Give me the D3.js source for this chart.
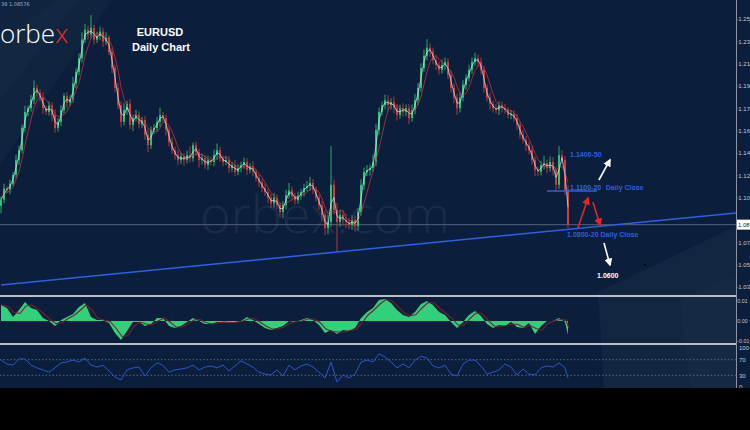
<!DOCTYPE html>
<html><head><meta charset="utf-8">
<script src="https://cdnjs.cloudflare.com/ajax/libs/d3/7.8.5/d3.min.js"></script>
<style>html,body{margin:0;padding:0;background:#000;overflow:hidden}svg{display:block}</style>
</head><body><svg id="c" width="750" height="430"></svg>
<script>
// ---- DATA (EURUSD daily, sampled) ----
const firstOpen = 1.1010;
const closes = [
1.1060,1.1150,1.1140,1.1190,1.1260,1.1380,1.1460,1.1640,1.1770,1.1800,
1.1870,1.1965,1.1925,1.1885,1.1800,1.1770,1.1820,1.1745,1.1640,1.1690,
1.1785,1.1900,1.1845,1.1870,1.2000,1.2095,1.2205,1.2355,1.2435,1.2395,
1.2450,1.2355,1.2385,1.2420,1.2340,1.2370,1.2255,1.2125,1.1965,1.1825,
1.1690,1.1785,1.1835,1.1665,1.1720,1.1745,1.1670,1.1705,1.1585,1.1500,
1.1625,1.1640,1.1690,1.1745,1.1720,1.1625,1.1525,1.1460,1.1420,1.1380,
1.1410,1.1380,1.1420,1.1395,1.1500,1.1445,1.1380,1.1395,1.1340,1.1380,
1.1365,1.1420,1.1460,1.1395,1.1365,1.1380,1.1315,1.1340,1.1285,1.1315,
1.1340,1.1365,1.1300,1.1330,1.1285,1.1235,1.1200,1.1155,1.1120,1.1075,
1.1030,1.1075,1.1015,1.0960,1.1015,1.1095,1.1135,1.1090,1.1055,1.1090,
1.1120,1.1155,1.1170,1.1195,1.1140,1.1075,1.1015,1.0935,1.0830,1.0880,
1.1180,1.0975,1.0880,1.0935,1.0895,1.0880,1.0855,1.0895,1.0845,1.0960,
1.1180,1.1285,1.1300,1.1315,1.1365,1.1625,1.1770,1.1825,1.1865,1.1825,
1.1850,1.1800,1.1745,1.1800,1.1770,1.1800,1.1720,1.1785,1.1865,1.1965,
1.2125,1.2225,1.2290,1.2260,1.2190,1.2150,1.2110,1.2150,1.2175,1.2070,
1.1965,1.1885,1.1800,1.1885,1.1990,1.2045,1.2110,1.2175,1.2205,1.2175,
1.2110,1.1965,1.1885,1.1835,1.1800,1.1785,1.1825,1.1800,1.1785,1.1745,
1.1755,1.1720,1.1665,1.1585,1.1545,1.1500,1.1460,1.1380,1.1300,1.1285,
1.1340,1.1355,1.1315,1.1365,1.1300,1.1180,1.1420,1.1380,1.1140,1.08576];
// wick lengths in pips above / below the body
const wickUp = [
25,40,18,30,22,45,35,28,50,20, 38,60,25,30,42,20,35,28,45,30,
40,22,30,35,55,28,40,60,45,30, 105,25,35,40,30,45,20,35,28,40,
30,55,25,38,20,42,30,25,35,45, 28,32,40,60,25,30,22,35,28,40,
30,25,38,70,22,30,28,40,25,35, 30,45,55,28,22,35,30,25,40,30,
28,35,30,25,40,22,30,28,35,25, 30,40,28,22,35,45,60,30,25,35,
28,35,40,50,30,25,28,35,40,55, 315,40,60,45,35,50,30,40,35,30,
45,35,40,30,60,50,35,30,45,40, 30,45,35,28,40,30,35,45,50,38,
40,50,70,35,30,40,28,45,35,30, 40,35,30,45,38,30,42,35,45,30,
35,30,28,40,25,32,30,28,35,25, 30,28,35,25,40,30,28,35,30,25,
35,60,30,45,40,30,75,40,35,38];
const wickDn = [
60,30,25,35,20,28,40,25,30,35, 28,35,40,30,45,25,30,50,38,30,
35,30,45,28,25,40,30,35,25,40, 30,40,28,35,45,30,25,40,35,30,
45,30,40,35,50,28,35,30,40,55, 30,35,28,40,30,45,35,30,38,40,
30,45,25,35,28,30,60,35,30,40, 28,35,40,30,35,25,40,30,35,28,
35,30,40,28,35,30,40,35,30,45, 40,35,30,45,50,35,28,40,35,30,
30,35,28,40,35,30,40,45,60,50, 40,35,244,40,45,50,35,40,45,35,
30,40,35,45,30,35,40,30,35,45, 35,40,45,30,38,35,50,30,35,40,
35,30,40,45,35,40,38,30,40,35, 40,45,55,35,30,40,28,35,30,40,
35,40,30,45,35,30,40,35,30,28, 35,30,40,35,30,45,35,40,50,35,
30,35,40,30,45,55,35,30,40,30];
// oscillator (one value per 2 bars)
const oscValues = [
0.0080,0.0065,0.0020,0.0055,0.0095,0.0065,0.0055,0.0015,0.0000,-0.0025,
0.0005,0.0020,0.0035,0.0070,0.0090,0.0020,0.0005,0.0005,-0.0010,-0.0060,
-0.0095,-0.0050,-0.0005,-0.0005,-0.0025,-0.0015,0.0015,0.0015,-0.0025,-0.0035,
-0.0025,-0.0005,0.0015,0.0000,-0.0015,-0.0015,-0.0005,-0.0005,-0.0010,-0.0005,
0.0000,0.0020,0.0005,-0.0015,-0.0035,-0.0045,-0.0035,-0.0025,0.0000,-0.0005,
0.0005,0.0015,0.0005,-0.0020,-0.0060,-0.0045,-0.0065,-0.0045,-0.0050,-0.0035,
0.0015,0.0045,0.0065,0.0105,0.0110,0.0090,0.0055,0.0030,0.0020,0.0045,
0.0085,0.0100,0.0080,0.0045,0.0030,-0.0005,-0.0035,-0.0005,0.0030,0.0050,
0.0025,-0.0015,-0.0035,-0.0020,-0.0025,-0.0005,-0.0030,-0.0035,-0.0010,-0.0065,
-0.0025,0.0000,0.0000,0.0015,-0.0005,-0.0070];
// RSI (one value per 2 bars)
const rsiValues = [
69,59,56,72,72,56,49,44,38,49, 62,64,69,64,74,56,51,56,41,26,
18,44,49,51,28,49,62,56,38,44, 46,49,56,44,51,54,49,56,41,54,
67,59,51,38,33,31,44,28,56,44, 54,59,51,38,23,64,13,31,23,33,
64,69,64,85,77,64,49,59,49,69, 79,74,54,49,56,33,28,59,69,69,
54,33,38,44,59,51,31,46,33,31, 49,54,51,62,49,23];
const priceTicks = [1.25230,1.23422,1.21614,1.19806,1.17998,1.16190,1.14382,1.12574,1.10766,1.07150,1.05342,1.03534];
const oscTicks = [0.0100, 0.0000, -0.0100];
const rsiTicks = [100, 70, 30, 0];
const rsiLevels = [70, 30];
const lastPrice = 1.08576;
const trendLine = [[0, 1.0370], [245, 1.0952]];
const zoneLine = [[182, 1.1130], [198.7, 1.1130]];
const labels = [
  {t:"1.1400-50", i:189.7, p:1.1405, c:"#2d5ee0"},
  {t:"1.1100-20", i:189.7, p:1.1138, c:"#3563e6"},
  {t:"Daily Close", i:201.6, p:1.1138, c:"#2d5ee0"},
  {t:"1.0800-20 Daily Close", i:188.7, p:1.0758, c:"#2d5ee0"},
  {t:"1.0600", i:198.7, p:1.0426, c:"#ffffff"}];
const arrows = [
  {from:[199.3,1.1219], to:[203,1.1381], c:"#ffffff"},
  {from:[201,1.0709], to:[203,1.0531], c:"#ffffff"},
  {from:[192.3,1.0830], to:[195.7,1.1073], c:"#e8262a"},
  {from:[197.3,1.1041], to:[199.7,1.0855], c:"#e8262a"}];

// ---- LAYOUT ----
const svg = d3.select('#c');
const W=750, H=430, AX=736;
const mainBot=296, oscTop=297, oscBot=343, rsiTop=345, rsiBot=388;
const BG="#0b1e3b";
const x = d3.scaleLinear().domain([0,245]).range([1,AX]);
const yP = d3.scaleLinear().domain([1.0280,1.2676]).range([mainBot,0]);
const yO = d3.scaleLinear().domain([-0.0110,0.0120]).range([oscBot,oscTop]);
const yR = d3.scaleLinear().domain([0,100]).range([387,348]);
const lastIdx = closes.length-1;
const sx = k => x(Math.min(2*k,lastIdx));
const trunc2 = d => (Math.floor(d*100+1e-6)/100).toFixed(2);

svg.append('rect').attr('width',W).attr('height',H).attr('fill',BG);
svg.append('path').attr('d','M0,0 L112,0 L0,165 Z').attr('fill','#fff').attr('opacity',0.025);
svg.append('path').attr('d','M0,40 L60,0 L78,0 L0,100 Z').attr('fill','#fff').attr('opacity',0.02);
svg.append('path').attr('d','M604,388 L598,292 L736,226 L736,388 Z').attr('fill','#fff').attr('opacity',0.03);
svg.append('path').attr('d','M690,388 L680,300 L736,275 L736,388 Z').attr('fill','#fff').attr('opacity',0.02);
svg.append('text').attr('x',325).attr('y',233).attr('text-anchor','middle')
  .attr('font-family','Open Sans, Lato, sans-serif').attr('font-weight',300).attr('font-size',52)
  .attr('fill','#fff').attr('opacity',0.06).text('orbex.com');

const defs = svg.append('defs');
defs.append('clipPath').attr('id','mainClip').append('rect').attr('x',0).attr('y',0).attr('width',AX).attr('height',mainBot);
['#ffffff','#e8262a'].forEach((c,j)=>{
  defs.append('marker').attr('id','ah'+j).attr('viewBox','0 0 10 10').attr('refX',8).attr('refY',5)
   .attr('markerWidth',5).attr('markerHeight',5).attr('orient','auto')
   .append('path').attr('d','M0,0 L10,5 L0,10 Z').attr('fill',c);
});

const main = svg.append('g').attr('clip-path','url(#mainClip)');
main.append('line').attr('x1',0).attr('x2',AX).attr('y1',yP(lastPrice)).attr('y2',yP(lastPrice))
  .attr('stroke','#55627a').attr('stroke-width',1.2).attr('opacity',0.8);

const candles = closes.map((c,i)=>{const o=i?closes[i-1]:firstOpen;
  return {i,o,c,h:Math.max(o,c)+wickUp[i]/10000,l:Math.min(o,c)-wickDn[i]/10000};});
const UP='#2fcf74', DN='#e0403a';
const cg = main.append('g');
cg.selectAll('line').data(candles).join('line')
  .attr('x1',d=>x(d.i)).attr('x2',d=>x(d.i)).attr('y1',d=>yP(d.h)).attr('y2',d=>yP(d.l))
  .attr('stroke',d=>d.c>=d.o?UP:DN).attr('stroke-width',0.8);
cg.selectAll('rect').data(candles).join('rect')
  .attr('x',d=>x(d.i)-0.9).attr('width',1.8)
  .attr('y',d=>yP(Math.max(d.o,d.c))).attr('height',d=>Math.max(1,Math.abs(yP(d.o)-yP(d.c))))
  .attr('fill',d=>d.c>=d.o?UP:DN);
function sma(n){return closes.map((c,i)=>d3.mean(closes.slice(Math.max(0,i-n+1),i+1)));}
const lineP = d3.line().x((d,i)=>x(i)).y(d=>yP(d));
main.append('path').attr('d',lineP(sma(5))).attr('fill','none').attr('stroke','#c8343a').attr('stroke-width',0.9).attr('opacity',0.85);
main.append('path').attr('d',lineP(sma(2))).attr('fill','none').attr('stroke','#bfe6ee').attr('stroke-width',0.9).attr('opacity',0.8);

main.append('line').attr('x1',x(trendLine[0][0])).attr('y1',yP(trendLine[0][1]))
  .attr('x2',x(trendLine[1][0])).attr('y2',yP(trendLine[1][1])).attr('stroke','#2f5fe6').attr('stroke-width',1.5);
main.append('line').attr('x1',x(zoneLine[0][0])).attr('y1',yP(zoneLine[0][1]))
  .attr('x2',x(zoneLine[1][0])).attr('y2',yP(zoneLine[1][1])).attr('stroke','#2f5fe6').attr('stroke-width',1.4);
arrows.forEach(a=>{
  main.append('line').attr('x1',x(a.from[0])).attr('y1',yP(a.from[1])).attr('x2',x(a.to[0])).attr('y2',yP(a.to[1]))
   .attr('stroke',a.c).attr('stroke-width',1.6).attr('marker-end','url(#ah'+(a.c==='#ffffff'?0:1)+')');
});
main.selectAll('text.lab').data(labels).join('text').attr('class','lab')
  .attr('x',d=>x(d.i)).attr('y',d=>yP(d.p)).attr('fill',d=>d.c)
  .attr('font-family','Liberation Sans, Arial, sans-serif').attr('font-weight','bold').attr('font-size',7)
  .text(d=>d.t);
main.append('circle').attr('cx',645).attr('cy',265).attr('r',0.9).attr('fill','#000');

// oscillator panel
const areaO = d3.area().x((d,k)=>sx(k)).y0(yO(0)).y1(d=>yO(d));
svg.append('path').attr('d',areaO(oscValues)).attr('fill','#31d07a');
const sig = oscValues.map((v,k)=>k?(oscValues[k-1]+v)/2:v);
svg.append('path').attr('d',d3.line().x((d,k)=>sx(k)+1).y(d=>yO(d))(sig)).attr('fill','none').attr('stroke','#7a1f30').attr('stroke-width',1.1);

// RSI panel
rsiLevels.forEach(l=>svg.append('line').attr('x1',0).attr('x2',AX).attr('y1',yR(l)).attr('y2',yR(l))
  .attr('stroke','#6b768a').attr('stroke-dasharray','1.5,2').attr('stroke-width',0.8));
svg.append('path').attr('d',d3.line().x((d,k)=>sx(k)).y(d=>yR(d))(rsiValues)).attr('fill','none').attr('stroke','#2c55cc').attr('stroke-width',1);

// separators & axis line
svg.append('rect').attr('x',0).attr('y',295).attr('width',AX+1).attr('height',2).attr('fill','#b9bec8');
svg.append('rect').attr('x',0).attr('y',343).attr('width',AX+1).attr('height',2).attr('fill','#b9bec8');
svg.append('line').attr('x1',AX+0.5).attr('x2',AX+0.5).attr('y1',0).attr('y2',rsiBot).attr('stroke','#8b93a5').attr('stroke-width',1);

function styleAxis(g, fs){
  g.select('.domain').remove();
  g.selectAll('line').attr('stroke','#8b93a5');
  g.selectAll('text').attr('fill','#c4c9d3').attr('font-size',fs).attr('font-family','Liberation Sans, Arial, sans-serif');
}
svg.append('g').attr('transform',`translate(${AX},0)`)
  .call(d3.axisRight(yP).tickValues(priceTicks).tickFormat(trunc2).tickSize(1.5).tickPadding(0.8)).call(g=>styleAxis(g,6));
svg.append('g').attr('transform',`translate(${AX},0)`)
  .call(d3.axisRight(yO).tickValues(oscTicks).tickFormat(trunc2).tickSize(1).tickPadding(0.3)).call(g=>styleAxis(g,5.3));
svg.append('g').attr('transform',`translate(${AX},0)`)
  .call(d3.axisRight(yR).tickValues(rsiTicks).tickFormat(d3.format('d')).tickSize(0).tickPadding(3)).call(g=>styleAxis(g,6));

// last price tag
svg.append('rect').attr('x',AX+1).attr('y',yP(lastPrice)-5).attr('width',W-AX).attr('height',10).attr('fill','#ffffff');
svg.append('text').attr('x',AX+2).attr('y',yP(lastPrice)+2.2).attr('font-size',6).attr('font-family','Liberation Sans, Arial, sans-serif')
  .attr('fill','#0b1e3b').text(trunc2(lastPrice));

// bottom black strip
svg.append('rect').attr('x',0).attr('y',rsiBot).attr('width',W).attr('height',H-rsiBot).attr('fill','#000');

// header texts
svg.append('text').attr('x',1).attr('y',6).attr('font-size',5)
  .attr('font-family','DejaVu Sans, sans-serif').attr('fill','#aab2c0').text('38 1.08576');
const logo = svg.append('text').attr('x',0).attr('y',43).attr('font-family','Open Sans, Lato, sans-serif')
  .attr('font-weight',300).attr('font-size',26).attr('fill','#ffffff');
logo.append('tspan').text('orbe');
logo.append('tspan').attr('fill','#e8322a').text('x');
svg.append('text').attr('x',160).attr('y',36).attr('text-anchor','middle').attr('font-family','Liberation Sans, Arial, sans-serif')
  .attr('font-weight','bold').attr('font-size',11).attr('fill','#fff').text('EURUSD');
svg.append('text').attr('x',161).attr('y',51).attr('text-anchor','middle').attr('font-family','Liberation Sans, Arial, sans-serif')
  .attr('font-weight','bold').attr('font-size',11).attr('fill','#fff').text('Daily Chart');
</script></body></html>
